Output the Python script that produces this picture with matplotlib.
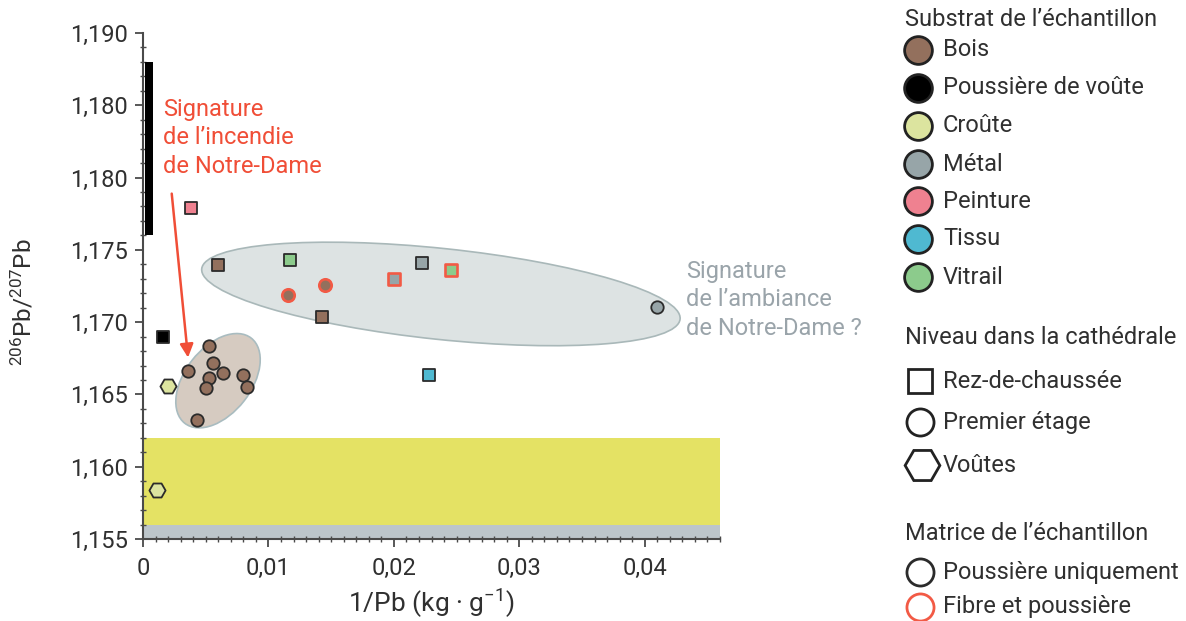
import matplotlib
matplotlib.use('Agg')
import matplotlib.pyplot as plt
from matplotlib.patches import Ellipse
from matplotlib.lines import Line2D
from matplotlib.transforms import IdentityTransform, ScaledTranslation
from matplotlib.ticker import MultipleLocator, FixedLocator

plt.rcParams['font.family'] = ['Roboto', 'DejaVu Sans']
plt.rcParams['mathtext.fontset'] = 'custom'
plt.rcParams['mathtext.rm'] = 'Roboto'
plt.rcParams['mathtext.it'] = 'Roboto:italic'
plt.rcParams['mathtext.bf'] = 'Roboto:bold'

# ---------------- data ----------------
substrats = ['Bois', 'Poussière de voûte', 'Croûte', 'Métal', 'Peinture', 'Tissu', 'Vitrail']
substrat_colors = ['#93705d', '#000000', '#dce49f', '#97a5a8', '#ef8190', '#4fb9d1', '#8ccb8c']
niveaux = ['Rez-de-chaussée', 'Premier étage', 'Voûtes']
niveau_markers = ['s', 'o', 'H']
niveau_sizes = [64, 80, 135]
matrices = ['Poussière uniquement', 'Fibre et poussière']
matrice_edges = ['#2b2b2b', '#f25a45']

sample_x = [0.0038, 0.0016, 0.0020, 0.0011,
            0.00528, 0.0056, 0.00361, 0.00635, 0.00526, 0.00794, 0.0050, 0.00826, 0.00433,
            0.00595, 0.01171, 0.02225, 0.02452, 0.02002, 0.01153, 0.0145, 0.01429, 0.04098, 0.02279]
sample_y = [1.1779, 1.1690, 1.1656, 1.1584,
            1.16833, 1.16715, 1.1666, 1.1665, 1.16611, 1.16637, 1.16542, 1.16549, 1.16325,
            1.17392, 1.17427, 1.17411, 1.17364, 1.17300, 1.17191, 1.1726, 1.17034, 1.17108, 1.16635]
sample_substrat = ['Peinture', 'Poussière de voûte', 'Croûte', 'Croûte',
                   'Bois', 'Bois', 'Bois', 'Bois', 'Bois', 'Bois', 'Bois', 'Bois', 'Bois',
                   'Bois', 'Vitrail', 'Métal', 'Vitrail', 'Métal', 'Bois', 'Bois', 'Bois', 'Métal', 'Tissu']
sample_niveau = ['Rez-de-chaussée', 'Rez-de-chaussée', 'Voûtes', 'Voûtes',
                 'Premier étage', 'Premier étage', 'Premier étage', 'Premier étage', 'Premier étage',
                 'Premier étage', 'Premier étage', 'Premier étage', 'Premier étage',
                 'Rez-de-chaussée', 'Rez-de-chaussée', 'Rez-de-chaussée', 'Rez-de-chaussée',
                 'Rez-de-chaussée', 'Premier étage', 'Premier étage', 'Rez-de-chaussée',
                 'Premier étage', 'Rez-de-chaussée']
sample_matrice = ['Poussière uniquement'] * 16 + ['Fibre et poussière'] * 4 + ['Poussière uniquement'] * 3

# reference ranges
voute_dust_range = (1.176, 1.188)
voute_dust_x = (0.00016, 0.00077)
croute_band = (1.156, 1.162)
base_band = (1.155, 1.156)

# grouping ellipses: centre (data), width/height (px), angle (deg)
incendie_ellipse = dict(center=(0.00598, 1.16595), size=(108, 66), angle=52)
ambiance_ellipse = dict(center=(0.02375, 1.17195), size=(481, 91), angle=-6)

y_ticks = [1.155, 1.160, 1.165, 1.170, 1.175, 1.180, 1.185, 1.190]
y_ticklabels = ['1,155', '1,160', '1,165', '1,170', '1,175', '1,180', '1,180', '1,190']
x_ticks = [0, 0.01, 0.02, 0.03, 0.04]
x_ticklabels = ['0', '0,01', '0,02', '0,03', '0,04']

# ---------------- figure ----------------
W, H = 1186, 621
fig = plt.figure(figsize=(W / 100, H / 100), dpi=100)
ax = fig.add_axes([143 / W, 1 - 539 / H, (720 - 143) / W, (539 - 33) / H])
ax.set_xlim(0, 0.046)
ax.set_ylim(1.155, 1.190)

txt = '#303030'
for s in ['top', 'right']:
    ax.spines[s].set_visible(False)
for s in ['left', 'bottom']:
    ax.spines[s].set_color('#4a4a4a')
    ax.spines[s].set_linewidth(1.5)
    ax.spines[s].set_zorder(6)

ax.yaxis.set_major_locator(FixedLocator(y_ticks))
ax.set_yticklabels(y_ticklabels)
ax.yaxis.set_minor_locator(MultipleLocator(0.001))
ax.xaxis.set_major_locator(FixedLocator(x_ticks))
ax.set_xticklabels(x_ticklabels)
ax.xaxis.set_minor_locator(MultipleLocator(0.001))
ax.tick_params(which='major', direction='out', length=6, width=1.3, color='#4a4a4a',
               labelsize=17, labelcolor=txt, pad=5)
ax.tick_params(which='minor', direction='inout', length=5, width=1.0, color='#4a4a4a')
ax.tick_params(axis='x', which='major', pad=7)

# bands
ax.axhspan(*croute_band, color='#e4e264', lw=0, zorder=0)
ax.axhspan(*base_band, color='#bcc5ca', lw=0, zorder=0)

# ellipses (size in display px)
for e, fc, ec in [(ambiance_ellipse, '#dde3e3', '#a9b8b9'), (incendie_ellipse, '#d6cbc1', '#a9bcc0')]:
    tr = IdentityTransform() + ScaledTranslation(e['center'][0], e['center'][1], ax.transData)
    ax.add_patch(Ellipse((0, 0), e['size'][0], e['size'][1], angle=e['angle'],
                         transform=tr, facecolor=fc, edgecolor=ec, lw=1.2, zorder=1))

# vault dust range bar
ax.bar((voute_dust_x[0] + voute_dust_x[1]) / 2, voute_dust_range[1] - voute_dust_range[0],
       bottom=voute_dust_range[0], width=voute_dust_x[1] - voute_dust_x[0],
       color='black', zorder=2)

# samples
for x, y, sub, niv, mat in zip(sample_x, sample_y, sample_substrat, sample_niveau, sample_matrice):
    ni = niveaux.index(niv)
    ax.scatter([x], [y], s=niveau_sizes[ni], marker=niveau_markers[ni],
               facecolor=substrat_colors[substrats.index(sub)],
               edgecolor=matrice_edges[matrices.index(mat)],
               linewidths=1.3 if mat == 'Poussière uniquement' else 1.9, zorder=4)

# annotations
red = '#f04e37'
ax.text(0.0016, 1.1855, "Signature\nde l’incendie\nde Notre-Dame", color=red,
        fontsize=17, va='top', ha='left', linespacing=1.3)
ax.annotate('', xy=(0.00359, 1.16755), xytext=(0.00229, 1.17889),
            arrowprops=dict(arrowstyle='-|>', color=red, lw=1.8, mutation_scale=20,
                            shrinkA=0, shrinkB=0))
ax.text(0.04327, 1.1743, "Signature\nde l’ambiance\nde Notre-Dame ?", color='#9aa4aa',
        fontsize=17, va='top', ha='left', linespacing=1.3, clip_on=False)

ax.set_ylabel(r'$^{206}$Pb/$^{207}$Pb', fontsize=17.5, color=txt)
ax.yaxis.set_label_coords(-0.185, 0.468)
ax.set_xlabel(r'1/Pb (kg · g$^{-1}$)', fontsize=19, color=txt, labelpad=5)

# ---------------- legends (drawn in figure pixel space) ----------------
def fx(px):
    return px / W

def fy(py):
    return 1 - py / H

def leg_marker(px, py, **kw):
    fig.add_artist(Line2D([fx(px)], [fy(py)], transform=fig.transFigure, linestyle='none', **kw))

def leg_text(px, py, s):
    fig.text(fx(px), fy(py), s, fontsize=17, color=txt, ha='left', va='center')

leg_text(905, 19, 'Substrat de l’échantillon')
sub_rows = [50, 88, 126, 164, 201, 239, 277]
for name, col, ry in zip(substrats, substrat_colors, sub_rows):
    leg_marker(918, ry, marker='o', markersize=20, markerfacecolor=col,
               markeredgecolor='#222222', markeredgewidth=2)
    leg_text(943, ry, name)

leg_text(905, 338, 'Niveau dans la cathédrale')
niv_rows = [381, 422, 465]
niv_px = [920, 919.5, 922]
niv_ms = [17, 19.5, 25]
for name, mk, ry, px, ms in zip(niveaux, niveau_markers, niv_rows, niv_px, niv_ms):
    leg_marker(px, ry, marker=mk, markersize=ms, markerfacecolor='none',
               markeredgecolor='#222222', markeredgewidth=2)
    leg_text(943, ry, name)

leg_text(905, 533, 'Matrice de l’échantillon')
mat_rows = [572, 607]
for name, ec, ry in zip(matrices, matrice_edges, mat_rows):
    leg_marker(919.5, ry, marker='o', markersize=19.5, markerfacecolor='none',
               markeredgecolor=ec, markeredgewidth=2)
    leg_text(943, ry, name)

fig.savefig('out.png', dpi=100)
